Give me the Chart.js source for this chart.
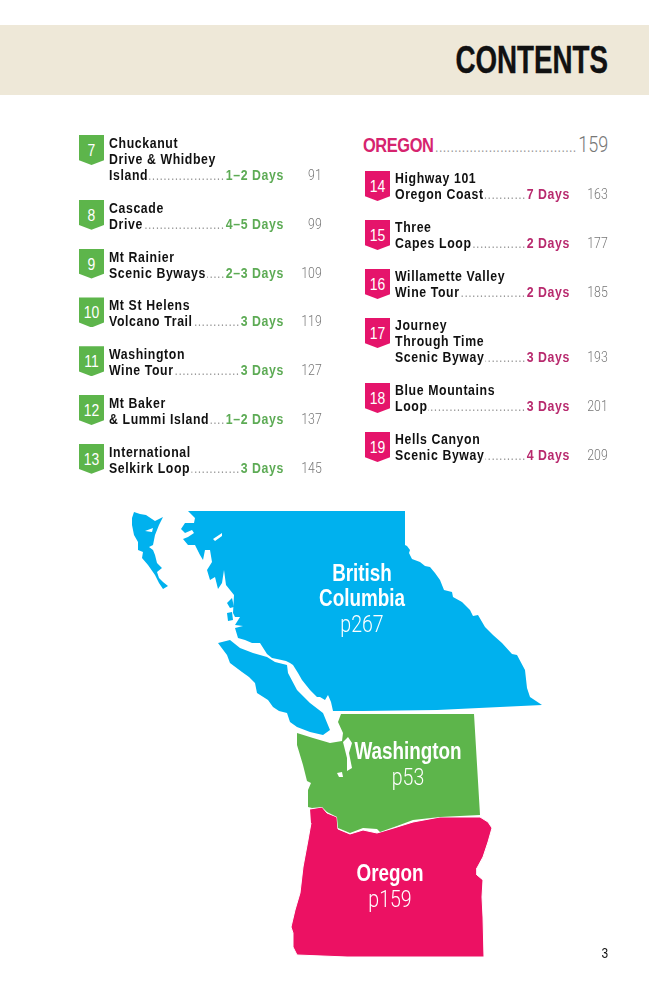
<!DOCTYPE html>
<html>
<head>
<meta charset="utf-8">
<title>Contents</title>
<script src="https://cdn.jsdelivr.net/npm/chart.js@4/dist/chart.umd.min.js"></script>
<style>
  html, body { margin: 0; padding: 0; background: #fff; }
  body { position: relative; width: 649px; height: 1000px; overflow: hidden; font-family: 'Liberation Sans', sans-serif; color: #111; }
  #band { position: absolute; left: 0; top: 25px; width: 649px; height: 70px; background: #eee8d8; }
  #band h1 { position: absolute; right: 41px; top: 13px; margin: 0; font-size: 38px; line-height: 44px; font-weight: bold; -webkit-text-stroke: .4px #111; transform: scaleX(.73); transform-origin: right center; }
  /* no narrow face is installed, so the columns are squeezed as a whole */
  .col { position: absolute; width: 296px; transform: scaleX(.82); transform-origin: left top; }
  #left { left: 79px; top: 135px; --c: #5dab55; --b: #5db54b; --gap: 16.8px; --bt: 0px; }
  #right { left: 365px; top: 170px; --c: #b82a6e; --b: #e5146b; --gap: 17px; --bt: 1px; }
  .item { position: relative; padding-left: 36.6px; margin-bottom: var(--gap); font-size: 15px; line-height: 16px; font-weight: bold; letter-spacing: .75px; }
  .badge { position: absolute; left: 0; top: var(--bt); width: 30.5px; height: 30px; background: var(--b); color: #fff; font-weight: normal; font-size: 17px; letter-spacing: 0; text-align: center; line-height: 31px; clip-path: polygon(0 0, 100% 0, 100% 84%, 50% 100%, 0 84%); }
  .last { display: flex; width: 213.4px; white-space: nowrap; }
  .dots { flex: 1; overflow: hidden; color: #999; font-weight: normal; letter-spacing: .5px; margin: 0 1px; direction: rtl; }
  .days { color: var(--c); }
  .page { position: absolute; right: 0; bottom: 0; color: #777; font-family: Roboto, sans-serif; font-weight: 300; font-size: 15px; letter-spacing: 0; }
  #region { position: absolute; left: 363px; top: 132px; width: 299px; display: flex; align-items: baseline; white-space: nowrap; transform: scaleX(.82); transform-origin: left top; }
  #region b { color: #d6246e; font-size: 20px; letter-spacing: -.5px; }
  #region i { flex: 1; overflow: hidden; font-style: normal; color: #999; font-size: 15px; letter-spacing: .5px; margin: 0 2px; }
  #region span { color: #777; font-family: Roboto, sans-serif; font-weight: 300; font-size: 22px; }
  #map { position: absolute; left: 0; top: 500px; width: 649px; height: 470px; }
  .label { position: absolute; transform: translate(-50%, -50%) scaleX(.82); color: #fff; white-space: nowrap; font-size: 23px; font-weight: bold; }
  .label.pg { font-family: Roboto, sans-serif; font-weight: 300; font-size: 23px; transform: translate(-50%, -50%) scaleX(.85); }
  #folio { position: absolute; left: 601px; top: 945px; font-size: 14px; transform: scaleX(.85); }
</style>
</head>
<body>
<div id="band"><h1>CONTENTS</h1></div>
<div id="left" class="col"></div>
<div id="region"><b>OREGON</b><i>..............................................................</i><span>159</span></div>
<div id="right" class="col"></div>
<div id="map"><canvas id="mapChart"></canvas></div>
<div id="labels"></div>
<div id="folio">3</div>

<script>
const washingtonNumbers = [7, 8, 9, 10, 11, 12, 13];
const washingtonTitles = [
  ['Chuckanut', 'Drive & Whidbey', 'Island'],
  ['Cascade', 'Drive'],
  ['Mt Rainier', 'Scenic Byways'],
  ['Mt St Helens', 'Volcano Trail'],
  ['Washington', 'Wine Tour'],
  ['Mt Baker', '& Lummi Island'],
  ['International', 'Selkirk Loop'],
];
const washingtonDays = ['1–2 Days', '4–5 Days', '2–3 Days', '3 Days', '3 Days', '1–2 Days', '3 Days'];
const washingtonPages = [91, 99, 109, 119, 127, 137, 145];

const oregonNumbers = [14, 15, 16, 17, 18, 19];
const oregonTitles = [
  ['Highway 101', 'Oregon Coast'],
  ['Three', 'Capes Loop'],
  ['Willamette Valley', 'Wine Tour'],
  ['Journey', 'Through Time', 'Scenic Byway'],
  ['Blue Mountains', 'Loop'],
  ['Hells Canyon', 'Scenic Byway'],
];
const oregonDays = ['7 Days', '2 Days', '2 Days', '3 Days', '3 Days', '4 Days'];
const oregonPages = [163, 177, 185, 193, 201, 209];

const regionNames = [['British', 'Columbia'], ['Washington'], ['Oregon']];
const regionPages = ['p267', 'p53', 'p159'];

// map outlines
const haidaGwaii = [[134,512],[140,514],[146,515],[155,521],[163,517],[159,525],[155,535],[153,545],[149,547],[153,550],[155,555],[157,563],[162,568],[157,572],[159,578],[163,582],[168,586],[163,589],[159,583],[155,575],[148,565],[142,558],[143,552],[138,550],[138,542],[134,535],[132,525],[132,518]];
const haidaHole = [[145,531],[153,528],[152,532]];
const bcMainland = [[188,511],[405,511],[405,545],[407,546],[410,550],[409,553],[412,559],[420,562],[425,566],[430,567],[435,573],[440,580],[444,590],[448,591],[452,592],[453,597],[462,602],[470,610],[473,616],[478,615],[485,627],[493,635],[502,643],[512,654],[517,655],[525,670],[527,688],[530,697],[542,705],[437,710],[363,711],[333,711],[331,702],[328,695],[325,700],[320,697],[317,697],[310,690],[302,680],[298,673],[293,665],[290,663],[286,661],[277,659],[272,658],[267,654],[260,643],[252,643],[245,640],[238,638],[235,628],[243,626],[235,625],[240,617],[235,617],[233,613],[234,595],[226,585],[224,570],[222,583],[218,589],[215,577],[210,580],[207,570],[212,562],[210,550],[205,550],[203,560],[200,555],[195,545],[188,545],[183,539],[188,537],[194,533],[192,530],[185,533],[181,529],[185,523],[194,523],[195,518]];
const bcSliver = [[213,539],[222,533],[222,536],[215,541]];
const bcIslandA = [[227,603],[232,598],[234,607],[230,608]];
const bcIslandB = [[227,613],[232,612],[233,620],[228,621]];
const vancouverIsland = [[218,643],[230,640],[240,648],[253,653],[267,657],[275,662],[287,665],[288,673],[297,690],[310,703],[323,713],[330,730],[323,735],[310,732],[297,727],[290,722],[287,713],[279,711],[273,707],[268,700],[257,693],[255,683],[249,677],[242,672],[230,663],[227,655]];
const washingtonState = [[341,714],[474,714],[480,815],[440,817],[413,820],[397,826],[380,832],[377,829],[363,828],[350,833],[338,828],[337,817],[327,812],[322,807],[312,808],[308,807],[308,790],[311,783],[307,781],[303,765],[297,745],[297,733],[313,738],[330,743],[342,741],[343,733],[338,722]];
const pugetSound = [[343,742],[348,737],[352,743],[349,753],[352,768],[347,771],[347,758],[345,750]];
const hoodCanal = [[337,773],[342,772],[343,777],[339,777]];
const oregonState = [[310,809],[322,807],[327,813],[337,817],[338,829],[350,834],[363,830],[377,833],[397,827],[413,822],[440,817],[480,817],[488,822],[492,828],[488,842],[483,857],[477,868],[477,875],[483,880],[482,897],[483,917],[484,957],[413,957],[347,957],[297,955],[293,947],[293,933],[291,927],[295,910],[300,893],[303,867],[308,840],[311,823]];

const BLUE = '#00b1ee';
const GREEN = '#5db54b';
const PINK = '#ec1163';

function buildList(el, numbers, titles, days, pages) {
  numbers.forEach((n, i) => {
    const item = document.createElement('div');
    item.className = 'item';
    const lines = titles[i];
    let html = `<div class="badge">${n}</div>`;
    lines.slice(0, -1).forEach(l => { html += `<div>${l.replace('&', '&amp;')}</div>`; });
    html += `<div class="last"><span>${lines[lines.length - 1].replace('&', '&amp;')}</span><span class="dots">${'.'.repeat(60)}</span><span class="days">${days[i]}</span></div>`;
    html += `<div class="page">${pages[i]}</div>`;
    item.innerHTML = html;
    el.appendChild(item);
  });
}
buildList(document.getElementById('left'), washingtonNumbers, washingtonTitles, washingtonDays, washingtonPages);
buildList(document.getElementById('right'), oregonNumbers, oregonTitles, oregonDays, oregonPages);

function shape(points, color, edge) {
  return {
    data: points.map(p => ({ x: p[0], y: p[1] })),
    showLine: true,
    fill: 'shape',
    backgroundColor: color,
    borderColor: edge || color,
    borderWidth: edge ? 1 : 0,
    pointRadius: 0,
    tension: 0,
  };
}

new Chart(document.getElementById('mapChart'), {
  type: 'scatter',
  data: {
    datasets: [
      shape(haidaHole, '#ffffff'),
      shape(bcSliver, '#ffffff'),
      shape(pugetSound, '#ffffff'),
      shape(hoodCanal, '#ffffff'),
      shape(haidaGwaii, BLUE),
      shape(bcMainland, BLUE),
      shape(bcIslandA, BLUE),
      shape(bcIslandB, BLUE),
      shape(vancouverIsland, BLUE),
      shape(washingtonState, GREEN),
      shape(oregonState, PINK, '#ffffff'),
    ],
  },
  options: {
    responsive: true,
    maintainAspectRatio: false,
    animation: false,
    events: [],
    layout: { padding: 0 },
    plugins: {
      legend: { display: false },
      tooltip: { enabled: false },
      filler: { drawTime: 'beforeDatasetDraw' },
    },
    scales: {
      x: { type: 'linear', min: 0, max: 649, display: false },
      y: { type: 'linear', min: 500, max: 970, reverse: true, display: false },
    },
  },
});

// region labels over the map
const labelSpots = [[362, [573, 598], 624], [408, [751], 777], [390, [873], 899]];
const labels = document.getElementById('labels');
regionNames.forEach((names, i) => {
  const [cx, ys, py] = labelSpots[i];
  names.forEach((name, j) => {
    const s = document.createElement('div');
    s.className = 'label';
    s.style.left = cx + 'px';
    s.style.top = ys[j] + 'px';
    s.textContent = name;
    labels.appendChild(s);
  });
  const p = document.createElement('div');
  p.className = 'label pg';
  p.style.left = cx + 'px';
  p.style.top = py + 'px';
  p.textContent = regionPages[i];
  labels.appendChild(p);
});
</script>
</body>
</html>
